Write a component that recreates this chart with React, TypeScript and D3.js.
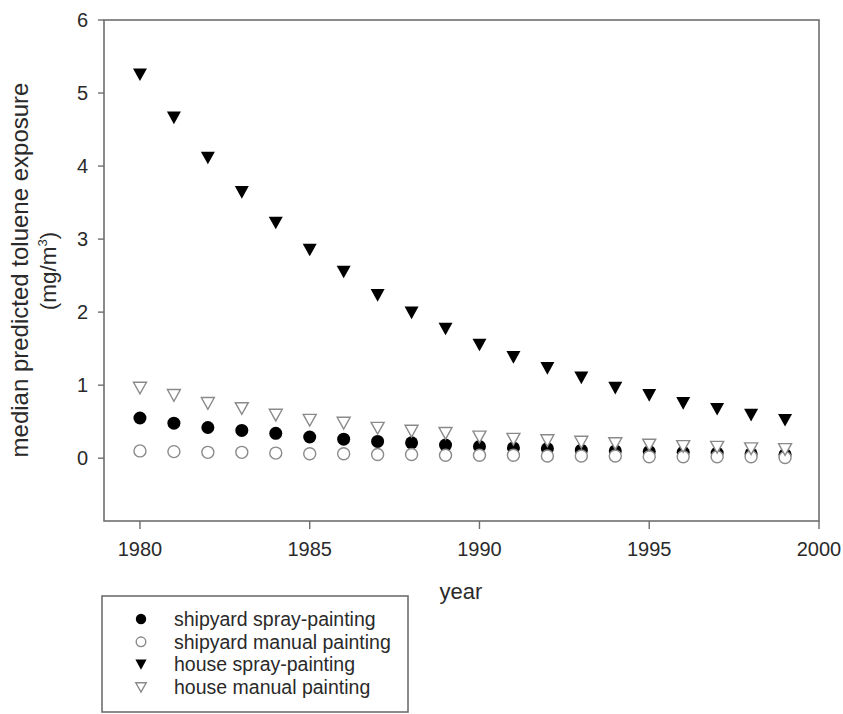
import React from "react";
import * as d3 from "d3";

const years = [1980,1981,1982,1983,1984,1985,1986,1987,1988,1989,1990,1991,1992,1993,1994,1995,1996,1997,1998,1999];
const shipyardSpray = [0.55,0.48,0.42,0.38,0.34,0.29,0.26,0.23,0.21,0.18,0.16,0.14,0.13,0.11,0.10,0.09,0.08,0.07,0.06,0.05];
const shipyardManual = [0.10,0.09,0.08,0.08,0.07,0.06,0.06,0.05,0.05,0.04,0.04,0.04,0.03,0.03,0.03,0.02,0.02,0.02,0.02,0.01];
const houseSpray = [5.25,4.66,4.11,3.64,3.22,2.85,2.55,2.23,1.99,1.77,1.55,1.38,1.23,1.10,0.96,0.86,0.75,0.67,0.59,0.52];
const houseManual = [0.96,0.86,0.75,0.68,0.59,0.52,0.48,0.41,0.37,0.34,0.29,0.26,0.24,0.22,0.20,0.18,0.16,0.15,0.13,0.12];
const xTicks = [1980,1985,1990,1995,2000];
const yTicks = [0,1,2,3,4,5,6];
const seriesNames = ["shipyard spray-painting","shipyard manual painting","house spray-painting","house manual painting"];

const FONT = "'Liberation Sans', Arial, Helvetica, sans-serif";
const AXIS = "#6e6e6e";
const TEXT = "#2a2a2a";

const x = d3.scaleLinear().domain([1979, 2000]).range([106, 819]);
const y = d3.scaleLinear().domain([-0.86, 6]).range([521, 20]);

type Kind = "fcircle" | "ocircle" | "ftri" | "otri";
const kinds: Kind[] = ["fcircle","ocircle","ftri","otri"];
const seriesData = [shipyardSpray, shipyardManual, houseSpray, houseManual];

const triPath = (s: number) => {
  const h = s * 0.9;
  return `M${-s / 2},${-h / 2}L${s / 2},${-h / 2}L0,${h / 2}Z`;
};

function Marker({ kind, cx, cy, size = 1 }: { kind: Kind; cx: number; cy: number; size?: number }) {
  if (kind === "fcircle") return <circle cx={cx} cy={cy} r={6.5 * size} fill="#000" />;
  if (kind === "ocircle") return <circle cx={cx} cy={cy} r={6 * size} fill="#fff" stroke="#8a8a8a" strokeWidth={1.4} />;
  if (kind === "ftri") return <path transform={`translate(${cx},${cy})`} d={triPath(14 * size)} fill="#000" />;
  return <path transform={`translate(${cx},${cy})`} d={triPath(13 * size)} fill="#fff" stroke="#8a8a8a" strokeWidth={1.4} />;
}

export default function App() {
  const [x0, x1] = x.range();
  const [yb, yt] = y.range();
  return (
    <svg width={843} height={714} style={{ position: "absolute", left: 0, top: 0, background: "#fff" }} fontFamily={FONT}>
      <rect x={0} y={0} width={843} height={714} fill="#fff" />
      {/* frame */}
      <rect x={x0 - 2} y={yt} width={x1 - x0 + 2} height={yb - yt} fill="none" stroke={AXIS} strokeWidth={1.6} />
      {/* y ticks */}
      {yTicks.map((t) => (
        <g key={"y" + t}>
          <line x1={x0 - 2} x2={x0 - 8} y1={y(t)} y2={y(t)} stroke={AXIS} strokeWidth={1.4} />
          <text x={x0 - 18} y={y(t)} dy="0.36em" textAnchor="end" fontSize={20} fill={TEXT}>{t}</text>
        </g>
      ))}
      {/* x ticks */}
      {xTicks.map((t) => (
        <g key={"x" + t}>
          <line x1={x(t)} x2={x(t)} y1={yb} y2={yb + 8} stroke={AXIS} strokeWidth={1.4} />
          <text x={x(t)} y={yb + 35} textAnchor="middle" fontSize={20} fill={TEXT}>{t}</text>
        </g>
      ))}
      {/* axis titles */}
      <text x={461} y={599} textAnchor="middle" fontSize={22} fill={TEXT}>year</text>
      <text transform="translate(28,270) rotate(-90)" textAnchor="middle" fontSize={24} fill={TEXT}>median predicted toluene exposure</text>
      <text transform="translate(56,271) rotate(-90)" textAnchor="middle" fontSize={22.5} fill={TEXT}>
        (mg/m<tspan dy="-9" fontSize={13}>3</tspan><tspan dy="9">)</tspan>
      </text>
      {/* points */}
      {seriesData.map((arr, si) =>
        arr.map((v, i) => <Marker key={si + "-" + i} kind={kinds[si]} cx={x(years[i])} cy={y(v)} />)
      )}
      {/* legend */}
      <rect x={102} y={596} width={306} height={116} fill="#fff" stroke={AXIS} strokeWidth={1.6} />
      {seriesNames.map((n, i) => (
        <g key={n}>
          <Marker kind={kinds[i]} cx={141} cy={619 + i * 22.8} size={0.8} />
          <text x={174} y={619 + i * 22.8} dy="0.35em" fontSize={19.5} fill={TEXT}>{n}</text>
        </g>
      ))}
    </svg>
  );
}
